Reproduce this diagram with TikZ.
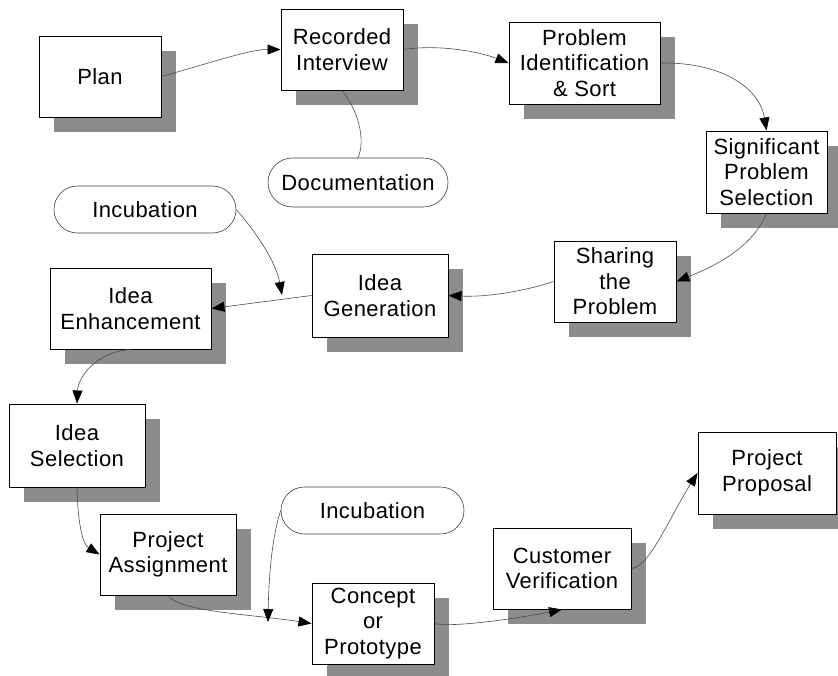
\documentclass[tikz,border=0pt]{standalone}
\usepackage{fontspec}
\setmainfont{Liberation Sans}[LetterSpace=2]
\usetikzlibrary{shadows,arrows.meta}
\tikzset{
  stepbox/.style={draw=black, line width=1pt, fill=white, align=center,
    inner sep=0pt, font=\fontsize{22}{25.5}\selectfont,
    drop shadow={shadow xshift=15pt, shadow yshift=-15pt, fill=black!45, opacity=1}},
  pill/.style={draw=black!75, line width=0.6pt, fill=white, align=center,
    inner sep=0pt, rounded corners=23.5pt, minimum height=47pt,
    font=\fontsize{22}{25.5}\selectfont},
  link/.style={draw=black!70, line width=0.6pt},
  flow/.style={link, -{Triangle[length=13pt,width=10pt,black]}}
}
\begin{document}
\begin{tikzpicture}[x=1pt,y=-1pt]
\useasboundingbox (0,0) rectangle (838,675);

% process steps
\node[stepbox, minimum width=122pt, minimum height=81pt] (plan) at (100,76.5) {Plan};
\node[stepbox, minimum width=122pt, minimum height=81pt] (rec) at (342,49.5) {Recorded\\Interview};
\node[stepbox, minimum width=151pt, minimum height=82pt] (pid) at (584.5,63) {Problem\\Identification\\\& Sort};
\node[stepbox, minimum width=121pt, minimum height=82pt] (sps) at (766.5,172) {Significant\\Problem\\Selection};
\node[stepbox, minimum width=122pt, minimum height=81pt] (share) at (615,281.5) {Sharing\\the\\Problem};
\node[stepbox, minimum width=136pt, minimum height=83pt] (igen) at (380,295.5) {Idea\\Generation};
\node[stepbox, minimum width=161pt, minimum height=81pt] (ienh) at (130.5,308.5) {Idea\\Enhancement};
\node[stepbox, minimum width=136pt, minimum height=83pt] (isel) at (77,445.5) {Idea\\Selection};
\node[stepbox, minimum width=136pt, minimum height=81pt] (pass) at (168,554.5) {Project\\Assignment};
\node[stepbox, minimum width=122pt, minimum height=81pt] (cpt) at (373,623.5) {Concept\\or\\Prototype};
\node[stepbox, minimum width=138pt, minimum height=81pt] (cver) at (562,568.5) {Customer\\Verification};
\node[stepbox, minimum width=138pt, minimum height=82pt] (prop) at (767,473) {Project\\Proposal};

% side activities
\node[pill, minimum width=180pt, minimum height=49pt, rounded corners=24.5pt] (doc) at (358,182.5) {Documentation};
\node[pill, minimum width=182pt] (incA) at (145,209.5) {Incubation};
\node[pill, minimum width=183pt] (incB) at (372.5,510.5) {Incubation};

% end points of the incubation arrows
\coordinate (incAend) at (282,295);
\coordinate (incBend) at (268,622);

% flow
\draw[flow] (plan.east) .. controls (220,60) and (250,49.5) .. (rec.west);
\draw[flow] (rec.east) .. controls (440,44) and (480,52) .. (pid.west);
\draw[flow] (pid.east) .. controls (725,62) and (760,90) .. (sps.north);
\draw[flow] (sps.south) .. controls (752,248) and (715,266) .. (share.east);
\draw[flow] (share.west) .. controls (515,294) and (480,297) .. (igen.east);
\draw[flow] (igen.west) -- (ienh.east);
\draw[flow] (ienh.south) .. controls (95,352) and (78,378) .. (isel.north);
\draw[flow] (isel.south) .. controls (78,530) and (84,545) .. (pass.west);
\draw[flow] (pass.south) .. controls (180,612) and (250,614) .. (cpt.west);
\draw[flow] (cpt.east) .. controls (452,628) and (520,618) .. (cver.south);
\draw[flow] (cver.east) .. controls (650,566) and (668,520) .. (prop.west);

% supporting links
\draw[link] (rec.south) .. controls (358,110) and (366,140) .. (doc.north);
\draw[flow] (incA.east) .. controls (256,232) and (276,262) .. (incAend);
\draw[flow] (incB.west) .. controls (274,530) and (269,565) .. (incBend);
\end{tikzpicture}
\end{document}
